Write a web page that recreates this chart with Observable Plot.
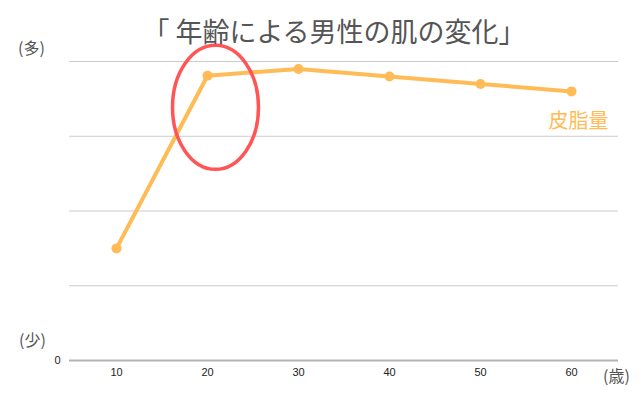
<!DOCTYPE html>
<html>
<head>
<meta charset="utf-8">
<script src="https://cdn.jsdelivr.net/npm/d3@7"></script>
<script src="https://cdn.jsdelivr.net/npm/@observablehq/plot@0.6"></script>
<style>
  html, body { margin: 0; padding: 0; background: #fff; }
</style>
</head>
<body>
<div id="chart"></div>
<script>
// Data
const ages = [10, 20, 30, 40, 50, 60];
const sebum = [1.5, 3.81, 3.9, 3.8, 3.7, 3.6];
const gridValues = [1, 2, 3, 4];
const seriesName = "皮脂量";
const titleText = "「 年齢による男性の肌の変化」";
const yTopLabel = "(多)";
const yBottomLabel = "(少)";
const xUnitLabel = "(歳)";
const highlightAge = 20;
const highlightLevel = 3.38;

const data = ages.map((a, i) => ({age: a, v: sebum[i]}));
const last = data[data.length - 1];

const orange = "#ffbb55";
const red = "#ff5555";
const gray = "#555";

const chart = Plot.plot({
  width: 640,
  height: 400,
  marginLeft: 69,
  marginRight: 22,
  marginTop: 61,
  marginBottom: 40,
  style: {fontFamily: "'Liberation Sans', 'Noto Sans CJK JP', sans-serif", background: "#fff"},
  x: {type: "point", domain: ages, padding: 0.5},
  y: {domain: [0, 4]},
  marks: [
    Plot.ruleY(gridValues, {stroke: "#cccccc", strokeWidth: 1}),
    Plot.ruleY([0], {stroke: "#b3b3b3", strokeWidth: 2}),
    Plot.axisX({tickSize: 0, tickPadding: 8, fontSize: 11, color: "#222", label: null}),
    Plot.axisY([0], {tickSize: 0, tickPadding: 9, fontSize: 11, color: "#222", label: null, tickFormat: d => String(d)}),
    Plot.line(data, {x: "age", y: "v", stroke: orange, strokeWidth: 4}),
    Plot.dot(data, {x: "age", y: "v", r: 5, fill: orange}),
    Plot.text([last], {x: "age", y: "v", text: () => seriesName, dx: 7, dy: 30, fontSize: 20, fill: orange, textAnchor: "middle", fontFamily: "'Noto Sans CJK JP', sans-serif"}),
    Plot.dot([{age: highlightAge, v: highlightLevel}], {
      x: "age", y: "v",
      render: (index, scales, values) => {
        const g = d3.create("svg:g");
        g.append("ellipse")
          .attr("cx", values.x[0] + 8.5)
          .attr("cy", values.y[0])
          .attr("rx", 43)
          .attr("ry", 62)
          .attr("fill", "none")
          .attr("stroke", red)
          .attr("stroke-width", 3.5);
        return g.node();
      }
    }),
    Plot.text([titleText], {frameAnchor: "top", text: d => d, dx: -10, dy: -39, fontSize: 27, fill: gray, fontFamily: "'Noto Sans CJK JP', sans-serif"}),
    Plot.text([yTopLabel], {frameAnchor: "top-left", text: d => d, dx: -38, dy: -19, fontSize: 16, fill: gray, textAnchor: "middle", fontFamily: "'Noto Sans CJK JP', sans-serif"}),
    Plot.text([yBottomLabel], {frameAnchor: "bottom-left", text: d => d, dx: -37, dy: -15, fontSize: 16, fill: gray, textAnchor: "middle", fontFamily: "'Noto Sans CJK JP', sans-serif"}),
    Plot.text([xUnitLabel], {frameAnchor: "bottom-right", text: d => d, dx: -2, dy: 21, fontSize: 16, fill: gray, textAnchor: "middle", fontFamily: "'Noto Sans CJK JP', sans-serif"})
  ]
});
document.getElementById("chart").appendChild(chart);
</script>
</body>
</html>
